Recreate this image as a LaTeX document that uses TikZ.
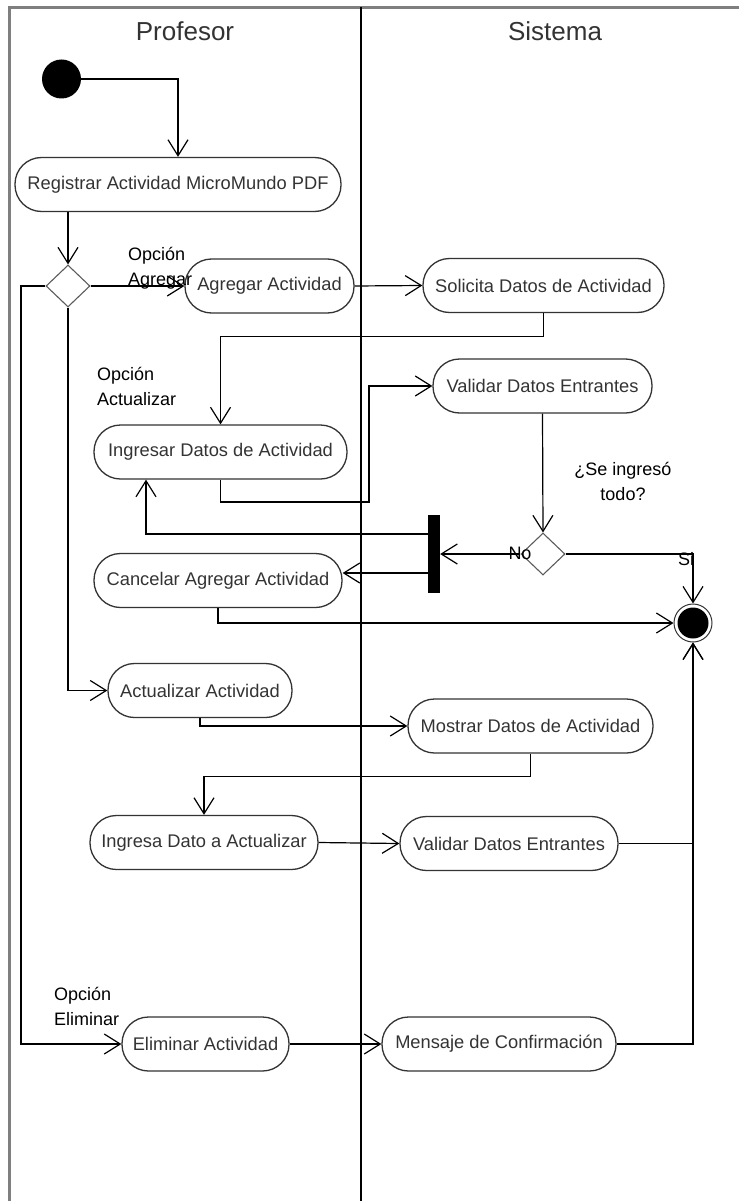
\documentclass[tikz,border=0pt]{standalone}
\usepackage{fontspec}
\setmainfont{Liberation Sans}
\usetikzlibrary{arrows.meta,shapes.geometric,calc}
\definecolor{framegray}{HTML}{7F7F7F}
\definecolor{ink}{HTML}{333333}
\begin{document}
\begin{tikzpicture}[x=1pt,y=-1pt,
  act/.style={draw=ink, line width=1.3pt, rounded corners=26.5pt, minimum height=54pt,
    inner sep=0pt, text=ink, font=\fontsize{18.3}{22}\selectfont},
  flow/.style={line width=1.2pt, -{Straight Barb[length=16pt,width=20pt]}},
  plain/.style={line width=1.2pt},
  decision/.style={diamond, draw=ink!80, line width=1.1pt, minimum width=44pt,
    minimum height=42pt, inner sep=0pt},
  guard/.style={font=\fontsize{18}{25}\selectfont, align=left, inner sep=0pt},
  lanetitle/.style={font=\fontsize{26}{30}\selectfont, text=ink}]
\useasboundingbox (0,0) rectangle (739,1201);

% swimlane frame and divider
\draw[framegray, line width=3pt] (739,7.5) -- (9.5,7.5) -- (9.5,1201);
\draw[line width=1.5pt] (361,7.5) -- (361,1201);
\node[lanetitle] (tprof) at (185,31) {Profesor};
\node[lanetitle] (tsis) at (555,31) {Sistema};

% initial and final states
\node[circle, fill=black, minimum size=39pt, inner sep=0pt] (start) at (61.5,79) {};
\node[circle, draw=ink, line width=1pt, minimum size=38pt, inner sep=0pt] (fin) at (693,623) {};
\fill (fin.center) circle[radius=15.5pt];

% activities
\node[act, minimum width=326pt] (reg)  at (178,184.5)  {Registrar Actividad MicroMundo PDF};
\node[act, minimum width=169pt] (agr)  at (269.5,286)  {Agregar Actividad};
\node[act, minimum width=241pt] (sol)  at (543.5,285.5){Solicita Datos de Actividad};
\node[act, minimum width=219pt] (val1) at (542.5,386)  {Validar Datos Entrantes};
\node[act, minimum width=253pt] (ing)  at (220.5,452)  {Ingresar Datos de Actividad};
\node[act, minimum width=248pt] (can)  at (218,580.5)  {Cancelar Agregar Actividad};
\node[act, minimum width=184pt] (actu) at (200,690.5)  {Actualizar Actividad};
\node[act, minimum width=245pt] (mos)  at (530.5,726)  {Mostrar Datos de Actividad};
\node[act, minimum width=228pt] (ingd) at (204,842.5)  {Ingresa Dato a Actualizar};
\node[act, minimum width=218pt] (val2) at (509,843.5)  {Validar Datos Entrantes};
\node[act, minimum width=167pt] (eli)  at (205.5,1044) {Eliminar Actividad};
\node[act, minimum width=234pt] (men)  at (499,1044)   {Mensaje de Confirmación};

% decisions and fork bar
\node[decision] (d1) at (68,286) {};
\node[decision] (d2) at (543,554) {};
\node[fill=black, minimum width=12pt, minimum height=78pt, inner sep=0pt] (bar) at (434,554) {};

% helper turning points
\coordinate (elbow) at (21,286);
\coordinate (k1) at (369,502);
\coordinate (b1) at ([yshift=20pt]bar.west);
\coordinate (b2) at ([yshift=-19pt]bar.west);

% flows
\draw[flow] (start.east) -| (reg.north);
\draw[flow] (d1.north |- reg.south) -- (d1.north);
\draw[flow] (d1.east) -- (agr.west);
\draw[flow] (d1.west) -- (elbow) |- (eli.west);
\draw[flow] (d1.south) |- (actu.west);
\draw[flow] (agr.east) -- (sol.west);
\draw[flow] (sol.south) -- ++(0,23) -| (ing.north);
\draw[flow] (ing.south) |- (k1) |- (val1.west);
\draw[flow] (val1.south) -- (d2.north);
\draw[flow] (d2.west) -- (bar.east);
\draw[flow] (b1) -| ([xshift=-74.5pt]ing.south);
\draw[flow] (b2) -- (can.east |- b2);
\draw[flow] (d2.east) -| (fin.north);
\draw[flow] (can.south) |- (fin.west);
\draw[flow] (actu.south) |- (mos.west);
\draw[flow] (mos.south) -- ++(0,23) -| (ingd.north);
\draw[flow] (ingd.east) -- (val2.west);
\draw[flow] (val2.east) -| (fin.south);
\draw[flow] (eli.east) -- (men.west);
\draw[flow] (men.east) -| (fin.south);

% guards and notes
\node[guard, anchor=west] (gagr) at (128,268.5) {Opción\\Agregar};
\node[guard, anchor=west] (gact) at (97,386) {Opción\\Actualizar};
\node[guard, anchor=west] (geli) at (54,1006) {Opción\\Eliminar};
\node[guard, align=center] (gq) at (623,481.5) {¿Se ingresó\\todo?};
\node[guard] (gno) at (520,553) {No};
\node[guard] (gsi) at (686,559) {Si};
\end{tikzpicture}
\end{document}
